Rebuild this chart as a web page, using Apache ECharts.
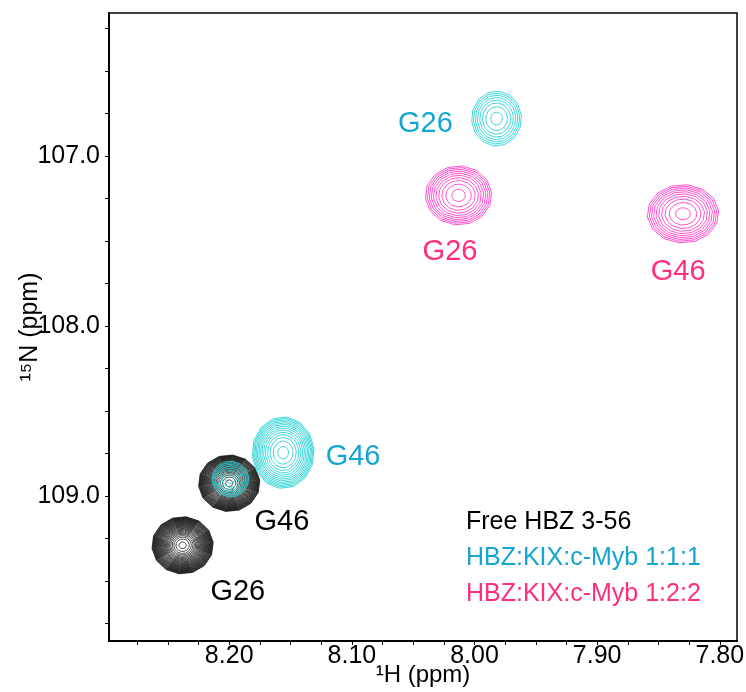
<!DOCTYPE html>
<html><head><meta charset="utf-8">
<script src="https://cdn.jsdelivr.net/npm/echarts@6/dist/echarts.min.js"></script>
<style>html,body{margin:0;padding:0;background:#fff}#c{width:746px;height:692px}</style>
</head><body><div id="c"></div>
<script>
// ---- data ----
// peaks: 1H ppm, 15N ppm, 1H half-width of outer contour (ppm), 15N half-width (ppm), contour levels
const freeH = [8.238, 8.200];
const freeN = [109.29, 108.925];
const freeWH = [0.0251, 0.0251];
const freeWN = [0.169, 0.167];
const freeLevels = [30, 30];

const kix111H = [7.982, 8.156, 8.199];
const kix111N = [106.78, 108.745, 108.90];
const kix111WH = [0.0204, 0.0253, 0.0150];
const kix111WN = [0.162, 0.211, 0.105];
const kix111Levels = [8, 14, 7];

const kix122H = [8.013, 7.830];
const kix122N = [107.232, 107.340];
const kix122WH = [0.0271, 0.0292];
const kix122WN = [0.174, 0.172];
const kix122Levels = [10, 10];

// peak labels
const freeLabels = [['G26', 8.193, 109.565], ['G46', 8.157, 109.153]];
const kix111Labels = [['G26', 8.040, 106.81], ['G46', 8.099, 108.771]];
const kix122Labels = [['G26', 8.020, 107.565], ['G46', 7.834, 107.682]];

const legendNames = ['Free HBZ 3-56', 'HBZ:KIX:c-Myb 1:1:1', 'HBZ:KIX:c-Myb 1:2:2'];

const xLabelValues = [7.8, 7.9, 8.0, 8.1, 8.2];
const xTickValues = [7.8, 7.825, 7.85, 7.875, 7.9, 7.925, 7.95, 7.975, 8.0, 8.025, 8.05, 8.075, 8.1, 8.125, 8.15, 8.175, 8.2, 8.225, 8.25, 8.275];
const yLabelValues = [107, 108, 109];
const yTickValues = [106.25, 106.5, 106.75, 107, 107.25, 107.5, 107.75, 108, 108.25, 108.5, 108.75, 109, 109.25, 109.5, 109.75];

// ---- styles ----
const FONT = "'Liberation Sans', Arial, Helvetica, sans-serif";
const cFree = '#000000', cKix111 = '#2dd2d6', cKix122 = '#ff40c8';
const tFree = '#000000', tKix111 = '#14a5d2', tKix122 = '#ff2d7e';

function peakData(H, N, WH, WN, L) { return H.map((h, i) => [h, N[i], WH[i], WN[i], L[i]]); }

function contourRenderer(color, lw) {
  return function (params, api) {
    const cx = api.value(0), cy = api.value(1), rx = api.value(2), ry = api.value(3), n = api.value(4);
    const NN = n - 0.6, V = 14, children = [];
    for (let k = 0; k < n; k++) {
      const f = Math.sqrt((NN - k) / NN);
      const pts = [];
      for (let j = 0; j < V; j++) {
        const t = 2 * Math.PI * j / V + 0.11;
        pts.push(api.coord([cx + rx * f * Math.cos(t), cy + ry * f * Math.sin(t)]));
      }
      children.push({ type: 'polygon', shape: { points: pts }, style: { fill: 'none', stroke: color, lineWidth: lw } });
    }
    return { type: 'group', children };
  };
}

function labelSeries(name, labels, color) {
  return {
    type: 'scatter', name, symbolSize: 0, silent: true, z: 5,
    itemStyle: { opacity: 1 },
    data: labels.map(l => [l[1], l[2], l[0]]),
    label: { show: true, position: 'inside', formatter: p => p.data[2], color, opacity: 1, fontSize: 29, fontFamily: FONT }
  };
}

const chart = echarts.init(document.getElementById('c'), null, { renderer: 'canvas' });
chart.setOption({
  animation: false,
  backgroundColor: '#fff',
  grid: { left: 109, right: 9, top: 13, bottom: 51, containLabel: false, outerBoundsMode: 'none',
    show: true, borderColor: '#000', borderWidth: 1.5, backgroundColor: 'transparent' },
  xAxis: {
    type: 'value', inverse: true, min: 7.786, max: 8.298,
    axisLine: { show: true, lineStyle: { color: '#000', width: 2 } },
    axisTick: { show: true, inside: false, length: 4, customValues: xTickValues, lineStyle: { color: '#000', width: 1 } },
    axisLabel: { customValues: xLabelValues, formatter: v => v.toFixed(2), fontSize: 25, color: '#000', margin: 3, fontFamily: FONT },
    splitLine: { show: false },
    name: '¹H (ppm)', nameLocation: 'middle', nameGap: 22, nameMoveOverlap: false,
    nameTextStyle: { fontSize: 24, color: '#000', fontFamily: FONT }
  },
  yAxis: {
    type: 'value', inverse: true, min: 106.159, max: 109.853,
    axisLine: { show: true, lineStyle: { color: '#000', width: 2 } },
    axisTick: { show: true, inside: false, length: 4, customValues: yTickValues, lineStyle: { color: '#000', width: 1 } },
    axisLabel: { customValues: yLabelValues, formatter: v => v.toFixed(1), fontSize: 25, color: '#000', margin: 9, fontFamily: FONT },
    splitLine: { show: false },
    name: '¹⁵N (ppm)', nameLocation: 'middle', nameGap: 66, nameMoveOverlap: false,
    nameTextStyle: { fontSize: 25, color: '#000', fontFamily: FONT }
  },
  series: [
    { type: 'custom', name: legendNames[0], clip: true, data: peakData(freeH, freeN, freeWH, freeWN, freeLevels),
      encode: { x: 0, y: 1 }, renderItem: contourRenderer(cFree, 0.7), z: 2 },
    { type: 'custom', name: legendNames[1], clip: true, data: peakData(kix111H, kix111N, kix111WH, kix111WN, kix111Levels),
      encode: { x: 0, y: 1 }, renderItem: contourRenderer(cKix111, 0.9), z: 3 },
    { type: 'custom', name: legendNames[2], clip: true, data: peakData(kix122H, kix122N, kix122WH, kix122WN, kix122Levels),
      encode: { x: 0, y: 1 }, renderItem: contourRenderer(cKix122, 0.9), z: 4 },
    labelSeries('lab0', freeLabels, tFree),
    labelSeries('lab1', kix111Labels, tKix111),
    labelSeries('lab2', kix122Labels, tKix122)
  ],
  graphic: legendNames.map((nm, i) => ({
    type: 'text', left: 466, top: 510 + i * 36,
    style: { text: nm, fill: [tFree, tKix111, tKix122][i], font: '25px ' + FONT }
  }))
});
</script></body></html>
